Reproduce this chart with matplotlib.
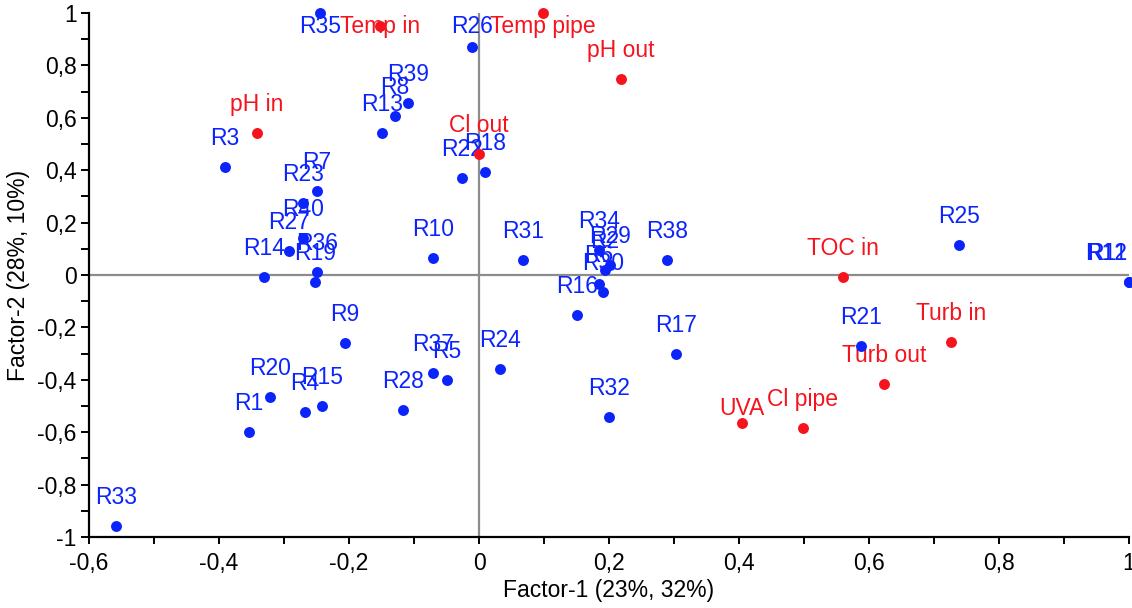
import matplotlib
matplotlib.use("Agg")
import matplotlib.pyplot as plt
from matplotlib.ticker import MultipleLocator, FuncFormatter

# observations (blue)
obs_names = [f"R{i}" for i in range(1, 41)]
obs_x = [-0.354, 0.194, -0.391, -0.268, -0.049, 0.185, -0.249, -0.129, -0.206, -0.071,
         1.0, 1.0, -0.149, -0.331, -0.242, 0.151, 0.303, 0.009, -0.252, -0.322,
         0.588, -0.026, -0.271, 0.032, 0.738, -0.011, -0.292, -0.117, 0.202, 0.191,
         0.068, 0.200, -0.558, 0.185, -0.245, -0.249, -0.071, 0.289, -0.109, -0.271]
obs_y = [-0.599, 0.019, 0.412, -0.523, -0.401, -0.034, 0.321, 0.607, -0.260, 0.065,
         -0.027, -0.027, 0.542, -0.008, -0.500, -0.153, -0.302, 0.393, -0.027, -0.466,
         -0.271, 0.370, 0.275, -0.359, 0.115, 0.870, 0.092, -0.515, 0.038, -0.065,
         0.057, -0.542, -0.958, 0.095, 1.0, 0.011, -0.374, 0.057, 0.656, 0.141]

# variables (red)
var_names = ["pH in", "Temp in", "Temp pipe", "pH out", "Cl out",
             "TOC in", "Turb in", "Turb out", "UVA", "Cl pipe"]
var_x = [-0.342, -0.152, 0.098, 0.218, 0.0, 0.560, 0.726, 0.623, 0.405, 0.498]
var_y = [0.542, 0.950, 1.0, 0.748, 0.462, -0.008, -0.256, -0.416, -0.565, -0.584]

BLUE = "#0b24fb"
RED = "#f5141e"
FS = 16.5

# labels that sit closer to their dot than the usual offset
label_gap = {"UVA": 0.055}

plt.rcParams["font.family"] = ["Liberation Sans", "DejaVu Sans"]

fig = plt.figure(figsize=(11.32, 6.08), dpi=100)
ax = fig.add_axes([89 / 1132, 71 / 608, 1040 / 1132, 524 / 608])

ax.axhline(0, color="#8c8c8c", lw=1.6, zorder=1)
ax.axvline(0, color="#8c8c8c", lw=1.6, zorder=1)


def put_labels(names, xs, ys, color):
    for n, x, y in zip(names, xs, ys):
        ly = min(y + label_gap.get(n, 0.11), 0.95)
        ha = "center"
        lx = x
        if x > 0.95:
            ha = "right"
            lx = 0.997
        ax.text(lx, ly, n, color=color, fontsize=FS, ha=ha, va="center",
                zorder=3, clip_on=False)


ax.scatter(obs_x, obs_y, s=62, color=BLUE, zorder=4, clip_on=False, linewidths=0)
ax.scatter(var_x, var_y, s=62, color=RED, zorder=4, clip_on=False, linewidths=0)
put_labels(obs_names, obs_x, obs_y, BLUE)
put_labels(var_names, var_x, var_y, RED)

ax.set_xlim(-0.6, 1.0)
ax.set_ylim(-1.0, 1.0)

for s in ["top", "right"]:
    ax.spines[s].set_visible(False)
for s in ["left", "bottom"]:
    ax.spines[s].set_linewidth(1.6)
    ax.spines[s].set_color("black")

fmt = FuncFormatter(lambda v, p: f"{round(v, 2):g}".replace(".", ","))
ax.xaxis.set_major_locator(MultipleLocator(0.2))
ax.xaxis.set_minor_locator(MultipleLocator(0.1))
ax.yaxis.set_major_locator(MultipleLocator(0.2))
ax.yaxis.set_minor_locator(MultipleLocator(0.1))
ax.xaxis.set_major_formatter(fmt)
ax.yaxis.set_major_formatter(fmt)
ax.tick_params(which="both", direction="out", length=6, width=1.4, labelsize=FS)
ax.tick_params(axis="x", which="both", length=5, pad=6)
ax.tick_params(axis="y", pad=3)

ax.set_xlabel("Factor-1 (23%, 32%)", fontsize=FS, labelpad=3)
ax.set_ylabel("Factor-2 (28%, 10%)", fontsize=FS, labelpad=5)

fig.savefig("out.png", dpi=100)
